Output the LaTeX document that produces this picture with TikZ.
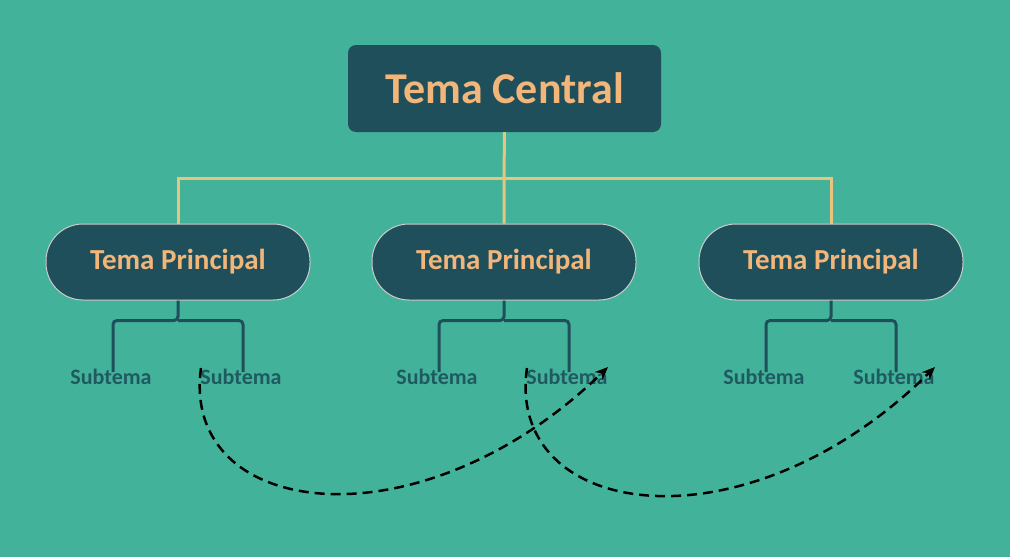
\documentclass[tikz,border=0pt]{standalone}
\usepackage{fontspec}
\setmainfont{Carlito}
\usetikzlibrary{arrows.meta}
\definecolor{bg}{HTML}{42B39A}
\definecolor{dk}{HTML}{1F4F5A}
\definecolor{or}{HTML}{F2B57A}
\definecolor{ln}{HTML}{E8C47E}
\definecolor{sub}{HTML}{1F5A60}
\begin{document}
\begin{tikzpicture}[x=1pt,y=-1pt,
  central/.style={fill=dk,rounded corners=8pt,minimum width=313pt,minimum height=87pt,text=or,font=\fontsize{44}{50}\selectfont\bfseries},
  main/.style={fill=dk,draw=gray!40,line width=1pt,rounded corners=37pt,minimum width=264pt,minimum height=76pt,text=or,font=\fontsize{29}{34}\selectfont\bfseries},
  subt/.style={text=sub,font=\fontsize{22}{26}\selectfont\bfseries,inner sep=1pt},
  tline/.style={draw=ln,line width=3pt},
  sline/.style={draw=dk,line width=3pt,rounded corners=4pt},
  dasharr/.style={draw=black,line width=2.5pt,dash pattern=on 10pt off 6pt,-{Stealth[length=13pt,width=11pt]}}]
\fill[bg] (0,0) rectangle (1010,557);
\useasboundingbox (0,0) rectangle (1010,557);
\node[central] (c) at (504.5,88.5) {Tema Central};
\foreach \i/\x in {1/178,2/504,3/831}{
  \node[main] (m\i) at (\x,262) {Tema Principal};
  \coordinate (j\i) at (\x,178);
  \node[subt] (sa\i) at (\x-67,377) {Subtema};
  \node[subt] (sb\i) at (\x+63,377) {Subtema};
  \draw[sline] (m\i.south) -- ++(0,20) -| ([xshift=2pt,yshift=-4pt]sa\i.north);
  \draw[sline] (m\i.south) ++(0,20) -| ([xshift=2pt,yshift=-4pt]sb\i.north);
}
\draw[tline] (c.south) -- (j2) -- (m2.north);
\draw[tline] (m1.north) |- (j1) -- (j3) -- (m3.north);
\coordinate (s1) at (201,368);
\coordinate (s2) at (527,368);
\draw[dasharr] (s1) .. controls (180,520) and (420,550) .. (608,367);
\draw[dasharr] (s2) .. controls (505,520) and (745,555) .. (935,367);
\end{tikzpicture}
\end{document}
